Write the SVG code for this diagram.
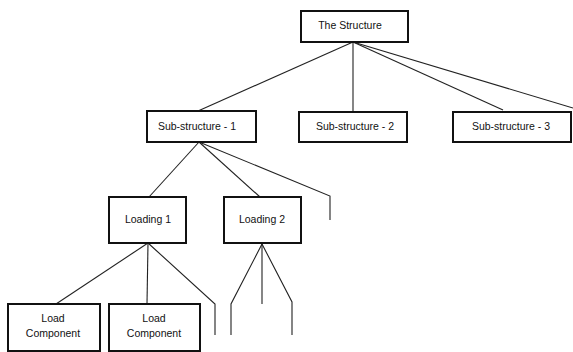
<svg xmlns="http://www.w3.org/2000/svg" width="573" height="352" viewBox="0 0 573 352">
<style>
.box{fill:#fff;stroke:#111;stroke-width:2}
.lbl{font-family:"Liberation Sans",Arial,sans-serif;font-size:10.5px;fill:#111;text-anchor:middle}
.conn{fill:none;stroke:#222;stroke-width:1.1}
</style>
<rect width="573" height="352" fill="#fff"/>
<g id="connectors">
<polyline class="conn" points="353,42 198,111"/>
<polyline class="conn" points="353,42 353,111"/>
<polyline class="conn" points="353,42 503,110"/>
<polyline class="conn" points="353,42 573,108"/>
<polyline class="conn" points="199,142 149,197"/>
<polyline class="conn" points="199,142 260,197"/>
<polyline class="conn" points="199,142 330,196 330,220"/>
<polyline class="conn" points="148,243 56,304"/>
<polyline class="conn" points="148,243 147,304"/>
<polyline class="conn" points="148,243 215,304 215,335"/>
<polyline class="conn" points="262,244 231,304 231,335"/>
<polyline class="conn" points="262,244 262,304"/>
<polyline class="conn" points="262,244 292,302 292,335"/>
</g>
<g id="the-structure">
<rect class="box" x="301" y="11" width="107" height="31"/>
<text class="lbl" x="350" y="29">The Structure</text>
</g>
<g id="sub-structure-1">
<rect class="box" x="147" y="111" width="109" height="31"/>
<text class="lbl" x="197" y="130">Sub-structure - 1</text>
</g>
<g id="sub-structure-2">
<rect class="box" x="299" y="112" width="108" height="30"/>
<text class="lbl" x="355" y="130">Sub-structure - 2</text>
</g>
<g id="sub-structure-3">
<rect class="box" x="453" y="112" width="118" height="30"/>
<text class="lbl" x="511" y="130">Sub-structure - 3</text>
</g>
<g id="loading-1">
<rect class="box" x="109" y="197" width="77" height="46"/>
<text class="lbl" x="148" y="223">Loading 1</text>
</g>
<g id="loading-2">
<rect class="box" x="224" y="197" width="77" height="46"/>
<text class="lbl" x="262" y="223">Loading 2</text>
</g>
<g id="load-component-1">
<rect class="box" x="8" y="304" width="92" height="47"/>
<text class="lbl" x="53" y="322">Load</text>
<text class="lbl" x="53" y="337">Component</text>
</g>
<g id="load-component-2">
<rect class="box" x="109" y="304" width="91" height="47"/>
<text class="lbl" x="154" y="322">Load</text>
<text class="lbl" x="154" y="337">Component</text>
</g>
</svg>
